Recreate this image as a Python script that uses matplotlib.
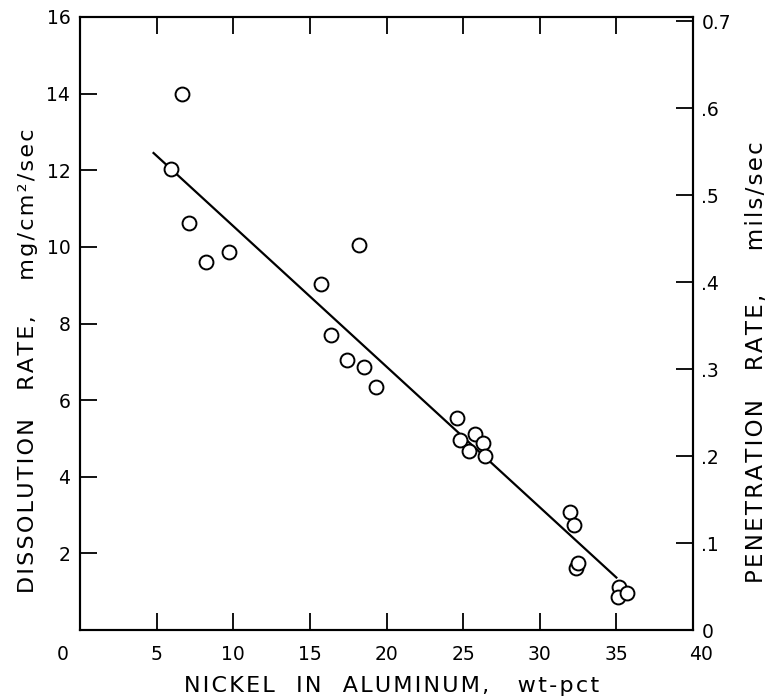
import matplotlib
matplotlib.use("Agg")
import matplotlib.pyplot as plt
import matplotlib.transforms as mtransforms

# data
nickel = [6.63, 5.93, 7.11, 8.22, 9.74, 15.75, 16.38, 17.40, 18.50, 18.20, 19.32,
          24.6, 24.8, 25.8, 25.4, 26.3, 26.4,
          31.95, 32.22, 32.35, 32.52, 35.17, 35.13, 35.72]
dissolution = [14.0, 12.02, 10.63, 9.61, 9.87, 9.04, 7.71, 7.05, 6.86, 10.04, 6.33,
               5.53, 4.96, 5.11, 4.67, 4.87, 4.54,
               3.07, 2.74, 1.61, 1.74, 1.11, 0.85, 0.97]
fit_x = [4.8, 35.0]
fit_y = [12.45, 1.37]

x_ticks = [0, 5, 10, 15, 20, 25, 30, 35, 40]
y_ticks = [2, 4, 6, 8, 10, 12, 14, 16]
pen_ticks = [0, 0.1, 0.2, 0.3, 0.4, 0.5, 0.6, 0.7]
pen_labels = ["0", ".1", ".2", ".3", ".4", ".5", ".6", "0.7"]

plt.rcParams['font.family'] = ['DejaVu Sans']


def spaced(words, gaps):
    """Letter-spaced label text (hair spaces between letters)."""
    out = ""
    for i, w in enumerate(words):
        out += "\u200a".join(w)
        if i < len(gaps):
            out += " " * gaps[i]
    return out


W, H = 767, 698
fig = plt.figure(figsize=(W/100, H/100), dpi=100)
ax = fig.add_axes([80/W, 68/H, 613/W, 613/H])

ax.plot(fit_x, fit_y, color='black', lw=1.6, zorder=2)
ax.plot(nickel, dissolution, linestyle='none', marker='o', markersize=10,
        markerfacecolor='white', markeredgecolor='black', markeredgewidth=1.4, zorder=3)

ax.set_xlim(0, 40)
ax.set_ylim(0, 16)
ax.set_xticks(x_ticks)
ax.set_yticks(y_ticks)
for s in ax.spines.values():
    s.set_linewidth(1.5)
ax.tick_params(direction='in', length=12, width=1.3, labelsize=13.5, top=True)
ax.tick_params(axis='y', pad=7)
ax.tick_params(axis='x', pad=11)

fig.canvas.draw()
for lab in ax.get_xticklabels():
    if lab.get_text() == '0':
        lab.set_transform(lab.get_transform() + mtransforms.ScaledTranslation(-0.17, 0, fig.dpi_scale_trans))
    if lab.get_text() == '40':
        lab.set_transform(lab.get_transform() + mtransforms.ScaledTranslation(0.08, 0, fig.dpi_scale_trans))

ax2 = ax.twinx()
ax2.set_ylim(0, 0.705)
ax2.set_yticks(pen_ticks)
ax2.set_yticklabels(pen_labels)
ax2.tick_params(direction='in', length=12, width=1.3, labelsize=13.5, pad=6)
for s in ax2.spines.values():
    s.set_linewidth(1.5)

fig.text(392/W, 6/H, spaced(["NICKEL", "IN", "ALUMINUM,", "wt-pct"], [3, 3, 4]),
         fontsize=16, ha='center', va='baseline')
fig.text(28/W, 1 - 361/H, spaced(["DISSOLUTION", "RATE,", "mg/cm\u00b2/sec"], [4, 5]),
         fontsize=16, ha='center', va='center', rotation=90)
fig.text(756/W, 1 - 362/H, spaced(["PENETRATION", "RATE,", "mils/sec"], [4, 6]),
         fontsize=16.5, ha='center', va='center', rotation=90)

fig.savefig("out.png", dpi=100)
